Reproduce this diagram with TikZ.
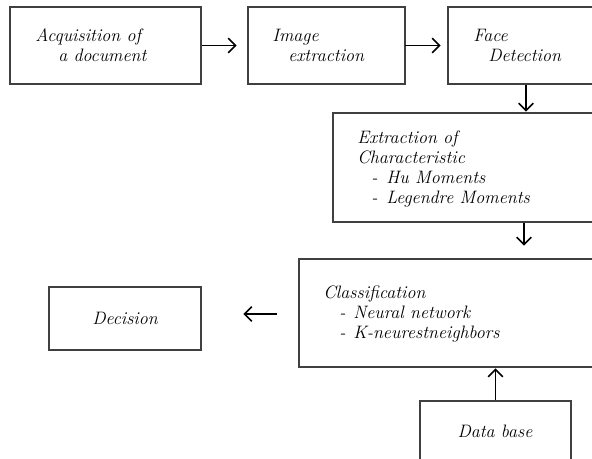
\documentclass[tikz,border=0pt]{standalone}
\usepackage{tikz}
\usetikzlibrary{arrows.meta}

\tikzset{
  block/.style={draw=black!75, line width=2pt, fill=white, inner sep=0pt},
  lbl/.style={inner sep=0pt, align=left, anchor=base west,
    font=\fontsize{13.5}{15}\selectfont\itshape},
  flow/.style={-{Straight Barb[length=5.5pt, width=11pt]}, line width=1.2pt, black},
}

\begin{document}
\begin{tikzpicture}[x=0.75pt, y=-0.75pt]
  \clip (0,0) rectangle (592,459);
  \fill[white] (0,0) rectangle (592,459);

  % boxes (the right column runs past the page edge)
  \node[block, minimum width=143.25pt, minimum height=57.75pt] (acq) at (105.5,45.5) {};
  \node[block, minimum width=117.75pt, minimum height=57.75pt] (img) at (326.5,45.5) {};
  \node[block, minimum width=129pt, minimum height=57.75pt] (face) at (534,45.5) {};
  \node[block, minimum width=215.25pt, minimum height=81.75pt] (extr) at (476.5,167.5) {};
  \node[block, minimum width=240.75pt, minimum height=81pt] (class) at (459.5,313) {};
  \node[block, minimum width=114pt, minimum height=47.25pt,
        font=\fontsize{13.5}{15}\selectfont\itshape] (dec) at (125,318.5) {Decision};
  \node[block, minimum width=113.25pt, minimum height=66.75pt] (db) at (495.5,445.5) {};

  % texts (anchored on the baseline of their last line)
  \node[lbl] (acqtxt) at (35,62) {Acquisition of\\\hspace*{17.25pt}a document};
  \node[lbl] (imgtxt) at (272,62) {Image\\\hspace*{12pt}extraction};
  \node[lbl] (facetxt) at (473,62) {Face\\\hspace*{11.25pt}Detection};
  \node[lbl] (extrtxt) at (357,204) {Extraction of\\Characteristic\\
    \hspace*{10.5pt}\makebox[11.25pt][l]{-}Hu Moments\\
    \hspace*{10.5pt}\makebox[11.25pt][l]{-}Legendre Moments};
  \node[lbl] (classtxt) at (323,339) {Classification\\
    \hspace*{12pt}\makebox[10.5pt][l]{-}Neural network\\
    \hspace*{12pt}\makebox[10.5pt][l]{-}K-neurestneighbors};
  \node[lbl, anchor=base] (dbtxt) at (495,437) {Data base};

  % arrows
  \coordinate (downa) at (526,0);
  \coordinate (downb) at (524,0);
  \coordinate (left) at (0,314);
  \draw[flow, shorten >=7.5pt] (acq) -- (img);
  \draw[flow, shorten <=-1pt, shorten >=4.5pt] (img) -- (face);
  \draw[flow] (downa |- face.south) -- (downa |- extr.north);
  \draw[flow, shorten >=9pt] (downb |- extr.south) -- (downb |- class.north);
  \draw[flow, shorten <=15.75pt, shorten >=30.75pt] (class.west |- left) -- (dec.east |- left);
  \draw[flow] (db.north) -- (db.north |- class.south);
\end{tikzpicture}
\end{document}
